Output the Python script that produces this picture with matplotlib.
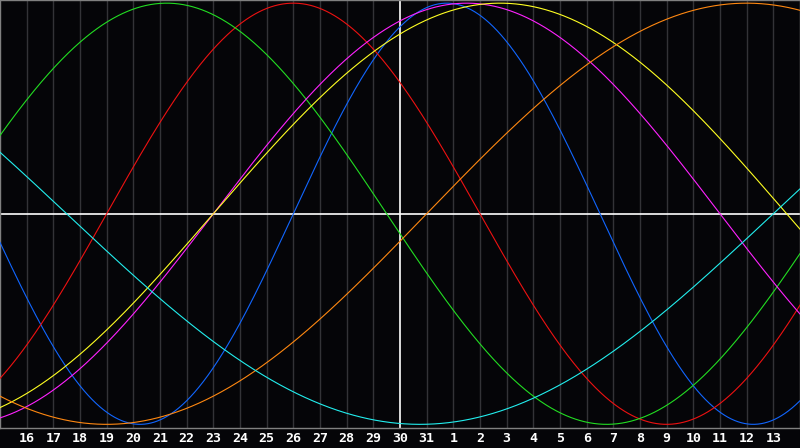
import matplotlib
matplotlib.use("Agg")
import matplotlib.pyplot as plt
import numpy as np

# day labels along the bottom (positions 1..29, day "30" at the centre)
day_labels = [str(d) for d in range(16, 32)] + [str(d) for d in range(1, 14)]

# cycle lengths (days) and day index where each cycle crosses zero going up
periods = [23, 28, 33, 38, 43, 48, 53]
zero_up = [11.0, 4.0, -2.0, 8.0, 8.0, 16.0, 29.0]
colors = ['#1166ff', '#ee1111', '#22dd22', '#ff22ff', '#ffff22', '#ff8811', '#22eeee']

bg = '#050508'
fig = plt.figure(figsize=(8, 4.48), dpi=100, facecolor=bg)
ax = fig.add_axes([0.0, 20.5 / 448, 1.0, 427.5 / 448])
ax.set_facecolor(bg)

days = np.linspace(0, 30, 1201)
for p, z, c in zip(periods, zero_up, colors):
    ax.plot(days, np.sin(2 * np.pi * (days - z) / p), color=c, lw=0.8, zorder=3)

for k in range(1, 30):
    if k == 15:
        continue
    ax.axvline(k, color='#333337', lw=1.0, zorder=1)
ax.axvline(15, color='white', lw=1.2, zorder=2)
ax.axhline(0, color='white', lw=1.2, zorder=2)

ax.set_xlim(0, 30)
ax.set_ylim(-1.015, 1.015)
ax.set_yticks([])
ax.set_xticks(range(1, 30))
ax.set_xticklabels(day_labels, color='white', fontsize=9.5, fontweight='bold',
                   family='DejaVu Sans Mono')
ax.tick_params(axis='x', length=0, pad=3.5)
for s in ax.spines.values():
    s.set_color('#808080')
    s.set_linewidth(1.0)

fig.savefig('out.png', dpi=100, facecolor=bg)
